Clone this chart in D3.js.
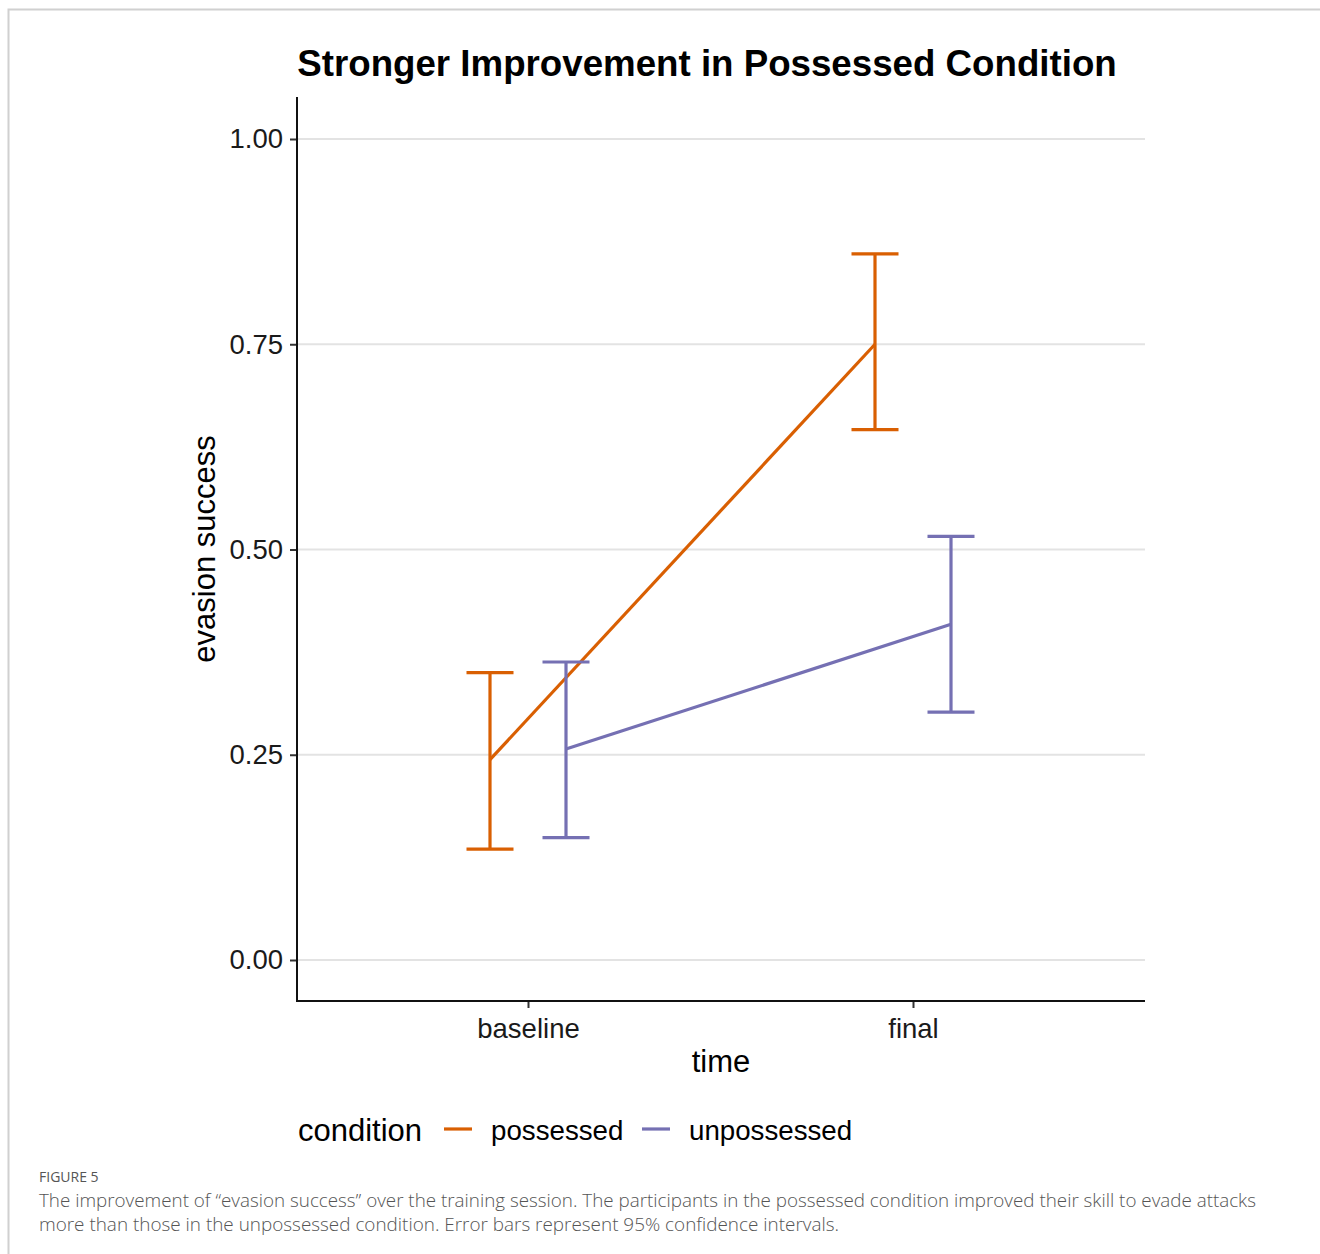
<!DOCTYPE html>
<html><head><meta charset="utf-8">
<script src="https://cdn.jsdelivr.net/npm/d3@7"></script>
<style>
html,body{margin:0;padding:0;background:#fff;}
svg{display:block;}
</style></head>
<body>
<svg id="chart" width="1320" height="1254"></svg>
<script>
// ---- data ----
const times = ["baseline", "final"];
const conditions = ["possessed", "unpossessed"];
const colors = ["#D95F02", "#7570B3"];
const possessedMean = [0.244, 0.750];
const possessedLow = [0.135, 0.646];
const possessedHigh = [0.350, 0.860];
const unpossessedMean = [0.257, 0.409];
const unpossessedLow = [0.149, 0.302];
const unpossessedHigh = [0.363, 0.516];
const yTicks = [0, 0.25, 0.5, 0.75, 1.0];
const titleText = "Stronger Improvement in Possessed Condition";
const xTitle = "time";
const yTitle = "evasion success";
const legendTitle = "condition";
const figLabel = "FIGURE 5";
const captionLines = [
  "The improvement of \u201cevasion success\u201d over the training session. The participants in the possessed condition improved their skill to evade attacks",
  "more than those in the unpossessed condition. Error bars represent 95% confidence intervals."
];
const captionWidths = [1217, 800];

const series = [
  {name: conditions[0], color: colors[0], mean: possessedMean, low: possessedLow, high: possessedHigh, off: -1},
  {name: conditions[1], color: colors[1], mean: unpossessedMean, low: unpossessedLow, high: unpossessedHigh, off: 1}
];

(function () {
const svg = d3.select("#chart");
const font = "'Liberation Sans', Arial, sans-serif";

// frame border
svg.append("path").attr("d", "M8.5,1254 L8.5,9.5 L1320,9.5")
  .attr("fill", "none").attr("stroke", "#d0d0d0").attr("stroke-width", 2);

const pLeft = 297, pRight = 1145, pTop = 97, pBottom = 1001;
const y = d3.scaleLinear().domain([0, 1]).range([960, 139]);
const x = d3.scalePoint().domain(times).range([528, 913]);
const dodge = 38, cap = 23.5;

// gridlines
svg.append("g").selectAll("line").data(yTicks).join("line")
  .attr("x1", pLeft).attr("x2", pRight)
  .attr("y1", d => y(d)).attr("y2", d => y(d))
  .attr("stroke", "#e3e3e3").attr("stroke-width", 2);

// y axis
const yAxis = svg.append("g").attr("transform", `translate(${pLeft},0)`)
  .call(d3.axisLeft(y).tickValues(yTicks).tickFormat(d3.format(".2f")).tickSize(7).tickPadding(7));
yAxis.select(".domain").remove();
yAxis.selectAll(".tick line").attr("stroke", "#333").attr("stroke-width", 2);
yAxis.selectAll(".tick text").attr("fill", "#1a1a1a").style("font-family", font).style("font-size", "27.5px");

// x axis
const xAxis = svg.append("g").attr("transform", `translate(0,${pBottom})`)
  .call(d3.axisBottom(x).tickSize(7).tickPadding(10.5));
xAxis.select(".domain").remove();
xAxis.selectAll(".tick line").attr("stroke", "#333").attr("stroke-width", 2);
xAxis.selectAll(".tick text").attr("fill", "#1a1a1a").style("font-family", font).style("font-size", "27.5px");

// axis lines
svg.append("path").attr("d", `M${pLeft},${pTop} L${pLeft},${pBottom} L${pRight},${pBottom}`)
  .attr("fill", "none").attr("stroke", "#111").attr("stroke-width", 2);

// series
series.forEach(s => {
  const g = svg.append("g");
  const px = i => x(times[i]) + s.off * dodge;
  g.append("path")
    .datum(times.map((t, i) => i))
    .attr("d", d3.line().x(i => px(i)).y(i => y(s.mean[i])))
    .attr("fill", "none").attr("stroke", s.color).attr("stroke-width", 3.2);
  times.forEach((t, i) => {
    g.append("line").attr("x1", px(i)).attr("x2", px(i))
      .attr("y1", y(s.low[i])).attr("y2", y(s.high[i]))
      .attr("stroke", s.color).attr("stroke-width", 3.2);
    [s.low[i], s.high[i]].forEach(v => {
      g.append("line").attr("x1", px(i) - cap).attr("x2", px(i) + cap)
        .attr("y1", y(v)).attr("y2", y(v))
        .attr("stroke", s.color).attr("stroke-width", 3.2);
    });
  });
});

// title
svg.append("text").attr("x", 707).attr("y", 76).attr("text-anchor", "middle")
  .style("font-family", font).style("font-weight", "bold").style("font-size", "36.7px")
  .attr("fill", "#000").text(titleText);

// axis titles
svg.append("text").attr("x", 721).attr("y", 1072).attr("text-anchor", "middle")
  .style("font-family", font).style("font-size", "31px").attr("fill", "#000").text(xTitle);
svg.append("text").attr("transform", "translate(215,549) rotate(-90)").attr("text-anchor", "middle")
  .style("font-family", font).style("font-size", "31px").attr("fill", "#000").text(yTitle);

// legend
svg.append("text").attr("x", 298).attr("y", 1141)
  .style("font-family", font).style("font-size", "31px").attr("fill", "#000").text(legendTitle);
const legX = [444, 642];
series.forEach((s, i) => {
  svg.append("line").attr("x1", legX[i]).attr("x2", legX[i] + 28)
    .attr("y1", 1129).attr("y2", 1129).attr("stroke", s.color).attr("stroke-width", 3.2);
  svg.append("text").attr("x", legX[i] + 47).attr("y", 1140)
    .style("font-family", font).style("font-size", "27.7px").attr("fill", "#000").text(s.name);
});

// caption
svg.append("text").attr("x", 39).attr("y", 1182)
  .style("font-family", "'Open Sans', sans-serif").style("font-size", "14px").attr("fill", "#555").text(figLabel);
captionLines.forEach((l, i) => {
  svg.append("text").attr("x", 39).attr("y", 1207 + i * 24)
    .attr("textLength", captionWidths[i]).attr("lengthAdjust", "spacingAndGlyphs")
    .style("font-family", "'Open Sans', sans-serif").style("font-size", "18px").style("font-weight", 300)
    .attr("fill", "#555").text(l);
});
})();
</script>
</body></html>
